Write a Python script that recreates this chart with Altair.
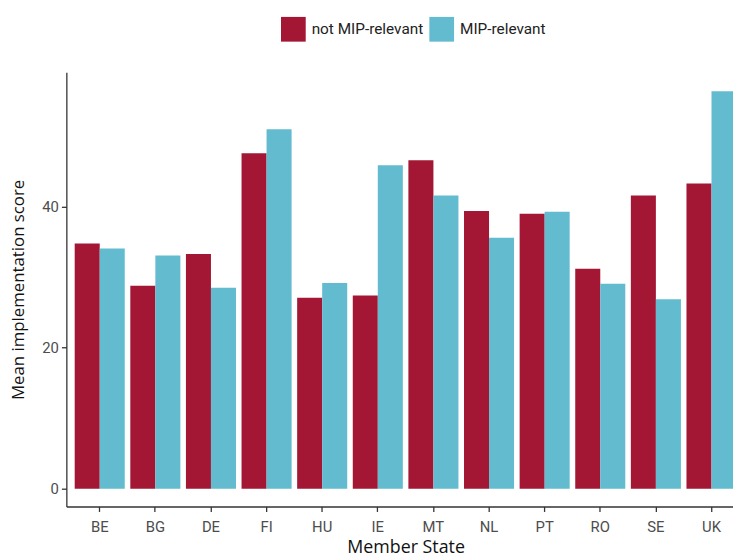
import altair as alt
import pandas as pd

states = ["BE", "BG", "DE", "FI", "HU", "IE", "MT", "NL", "PT", "RO", "SE", "UK"]
not_mip = [34.8, 28.8, 33.3, 47.6, 27.1, 27.4, 46.6, 39.4, 39.0, 31.2, 41.6, 43.3]
mip = [34.1, 33.1, 28.5, 51.0, 29.2, 45.9, 41.6, 35.6, 39.3, 29.1, 26.9, 56.4]
groups = ["not MIP-relevant", "MIP-relevant"]
colors = ["#A31735", "#62BBCE"]
y_ticks = [0, 20, 40]

rows = []
for s, a, b in zip(states, not_mip, mip):
    rows.append({"state": s, "group": groups[0], "score": a})
    rows.append({"state": s, "group": groups[1], "score": b})
df = pd.DataFrame(rows)

axis_common = dict(
    grid=False,
    domainColor="#333333",
    domainWidth=1.3,
    tickColor="#333333",
    tickWidth=1.3,
    tickSize=5,
    labelFont="Roboto",
    labelFontSize=15,
    labelColor="#4D4D4D",
    titleFont="Open Sans",
    titleFontWeight="normal",
    titleColor="#111111",
)

chart = alt.Chart(df).mark_bar().encode(
    x=alt.X(
        "state:N",
        sort=states,
        title="Member State",
        scale=alt.Scale(paddingInner=0.1, paddingOuter=0.15),
        axis=alt.Axis(labelAngle=0, labelPadding=8, titlePadding=4,
                      titleFontSize=18, **axis_common),
    ),
    xOffset=alt.XOffset(
        "group:N", sort=groups, scale=alt.Scale(paddingInner=0, paddingOuter=0)
    ),
    y=alt.Y(
        "score:Q",
        title="Mean implementation score",
        stack=None,
        scale=alt.Scale(domain=[-2.53, 59.09], nice=False, zero=False),
        axis=alt.Axis(values=y_ticks, labelPadding=3, titlePadding=14,
                      titleFontSize=17, **axis_common),
    ),
    y2=alt.datum(0),
    color=alt.Color(
        "group:N",
        scale=alt.Scale(domain=groups, range=colors),
        legend=alt.Legend(
            title=None,
            orient="none",
            legendX=217,
            legendY=-56,
            direction="horizontal",
            symbolType="square",
            symbolSize=625,
            symbolStrokeWidth=0,
            symbolOpacity=1,
            labelFont="Roboto",
            labelFontSize=15.5,
            labelColor="#222222",
            labelOffset=6,
            columnPadding=6,
            padding=0,
        ),
    ),
).properties(
    width=686,
    height=439,
    autosize=alt.AutoSizeParams(type="none"),
    padding={"left": 59, "top": 62, "right": -12, "bottom": 45},
).configure_view(stroke=None)

chart.save("out.html", embed_options={"renderer": "svg", "actions": False})
